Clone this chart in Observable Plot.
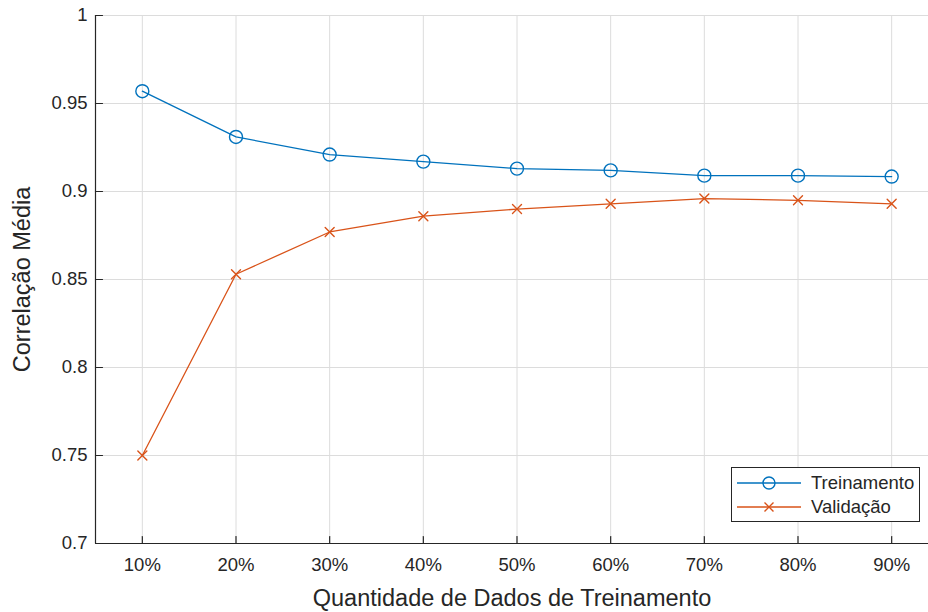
<!DOCTYPE html>
<html>
<head>
<meta charset="utf-8">
<script src="https://cdn.jsdelivr.net/npm/d3@7"></script>
<script src="https://cdn.jsdelivr.net/npm/@observablehq/plot@0.6"></script>
<style>
  html, body { margin: 0; padding: 0; background: #fff; overflow: hidden; }
  #wrap { position: relative; width: 928px; height: 612px; font-family: "Liberation Sans", Arial, Helvetica, sans-serif; }
  #legend { position: absolute; left: 731px; top: 467px; width: 189px; height: 55px; border: 1.3px solid #262626; background: #fff; box-sizing: border-box; }
  #legend .row { position: absolute; left: 0; height: 24px; display: flex; align-items: center; }
  #legend .row span { font-size: 18.5px; color: #262626; margin-left: 4px; }
</style>
</head>
<body>
<div id="wrap"></div>
<script>
const categories = ["10%", "20%", "30%", "40%", "50%", "60%", "70%", "80%", "90%"];
const treinamento = [0.957, 0.931, 0.921, 0.917, 0.913, 0.912, 0.909, 0.909, 0.9085];
const validacao = [0.750, 0.853, 0.877, 0.886, 0.890, 0.893, 0.896, 0.895, 0.893];
const yTicks = [0.7, 0.75, 0.8, 0.85, 0.9, 0.95, 1];
const seriesNames = ["Treinamento", "Validação"];
const colors = ["#0072BD", "#D95319"];

const xIdx = categories.map((c, i) => i + 1);
const rowsT = categories.map((c, i) => ({x: i + 1, y: treinamento[i]}));
const rowsV = categories.map((c, i) => ({x: i + 1, y: validacao[i]}));

const textColor = "#262626";
const tickShape = {draw(ctx, l) { ctx.moveTo(0, 0); ctx.lineTo(0, -l); }};
const xMarkShape = {draw(ctx, l) { ctx.moveTo(-l, -l); ctx.lineTo(l, l); ctx.moveTo(-l, l); ctx.lineTo(l, -l); }};

const chart = Plot.plot({
  width: 928,
  height: 612,
  marginLeft: 95,
  marginRight: 0,
  marginTop: 15,
  marginBottom: 69,
  style: {fontFamily: '"Liberation Sans", Arial, Helvetica, sans-serif', color: textColor, background: "#fff"},
  x: {type: "linear", domain: [0.5, 9.5], range: [95, 938]},
  y: {domain: [0.7, 1]},
  marks: [
    Plot.ruleX(xIdx, {stroke: "#dcdcdc", strokeWidth: 1}),
    Plot.ruleY(yTicks, {stroke: "#dcdcdc", strokeWidth: 1}),
    Plot.ruleX([0.5], {stroke: textColor, strokeWidth: 1.2}),
    Plot.ruleY([0.7], {stroke: textColor, strokeWidth: 1.2}),
    Plot.vector(xIdx, {x: d => d, y: 0.7, length: 7, anchor: "start", shape: tickShape, stroke: textColor, strokeWidth: 1.2}),
    Plot.vector(yTicks, {x: 0.5, y: d => d, length: 7, rotate: 90, anchor: "start", shape: tickShape, stroke: textColor, strokeWidth: 1.2}),
    Plot.axisX(xIdx, {tickSize: 0, tickPadding: 14, fontSize: 18.5, tickFormat: d => categories[d - 1], label: "Quantidade de Dados de Treinamento", labelAnchor: "center", labelArrow: "none", labelOffset: 62, fill: textColor}),
    Plot.axisY(yTicks, {tickSize: 0, tickPadding: 8, fontSize: 18.5, tickFormat: d => String(d), label: "Correlação Média", labelAnchor: "center", labelArrow: "none", labelOffset: 82, fill: textColor}),
    Plot.line(rowsT, {x: "x", y: "y", stroke: colors[0], strokeWidth: 1.3}),
    Plot.dot(rowsT, {x: "x", y: "y", r: 6.5, stroke: colors[0], strokeWidth: 1.4, fill: "none"}),
    Plot.line(rowsV, {x: "x", y: "y", stroke: colors[1], strokeWidth: 1.3}),
    Plot.vector(rowsV, {x: "x", y: "y", length: 4.5, anchor: "start", shape: xMarkShape, stroke: colors[1], strokeWidth: 1.4})
  ]
});

chart.querySelectorAll("[aria-label='x-axis label'] text, [aria-label='y-axis label'] text").forEach(t => {
  t.setAttribute("font-size", "23.5px");
});

const wrap = document.getElementById("wrap");
wrap.appendChild(chart);

const legend = document.createElement("div");
legend.id = "legend";
const markers = [
  '<circle cx="32" cy="12" r="6" fill="none" stroke="' + colors[0] + '" stroke-width="1.4"/>',
  '<path d="M27.5,7.5L36.5,16.5M27.5,16.5L36.5,7.5" stroke="' + colors[1] + '" stroke-width="1.4" fill="none"/>'
];
seriesNames.forEach((name, i) => {
  const row = document.createElement("div");
  row.className = "row";
  row.style.top = (3 + i * 24) + "px";
  row.innerHTML = '<svg width="70" height="24" style="margin-left:5px"><line x1="0" y1="12" x2="64" y2="12" stroke="' + colors[i] + '" stroke-width="1.3"/>' + markers[i] + '</svg><span>' + name + '</span>';
  legend.appendChild(row);
});
wrap.appendChild(legend);
</script>
</body>
</html>
